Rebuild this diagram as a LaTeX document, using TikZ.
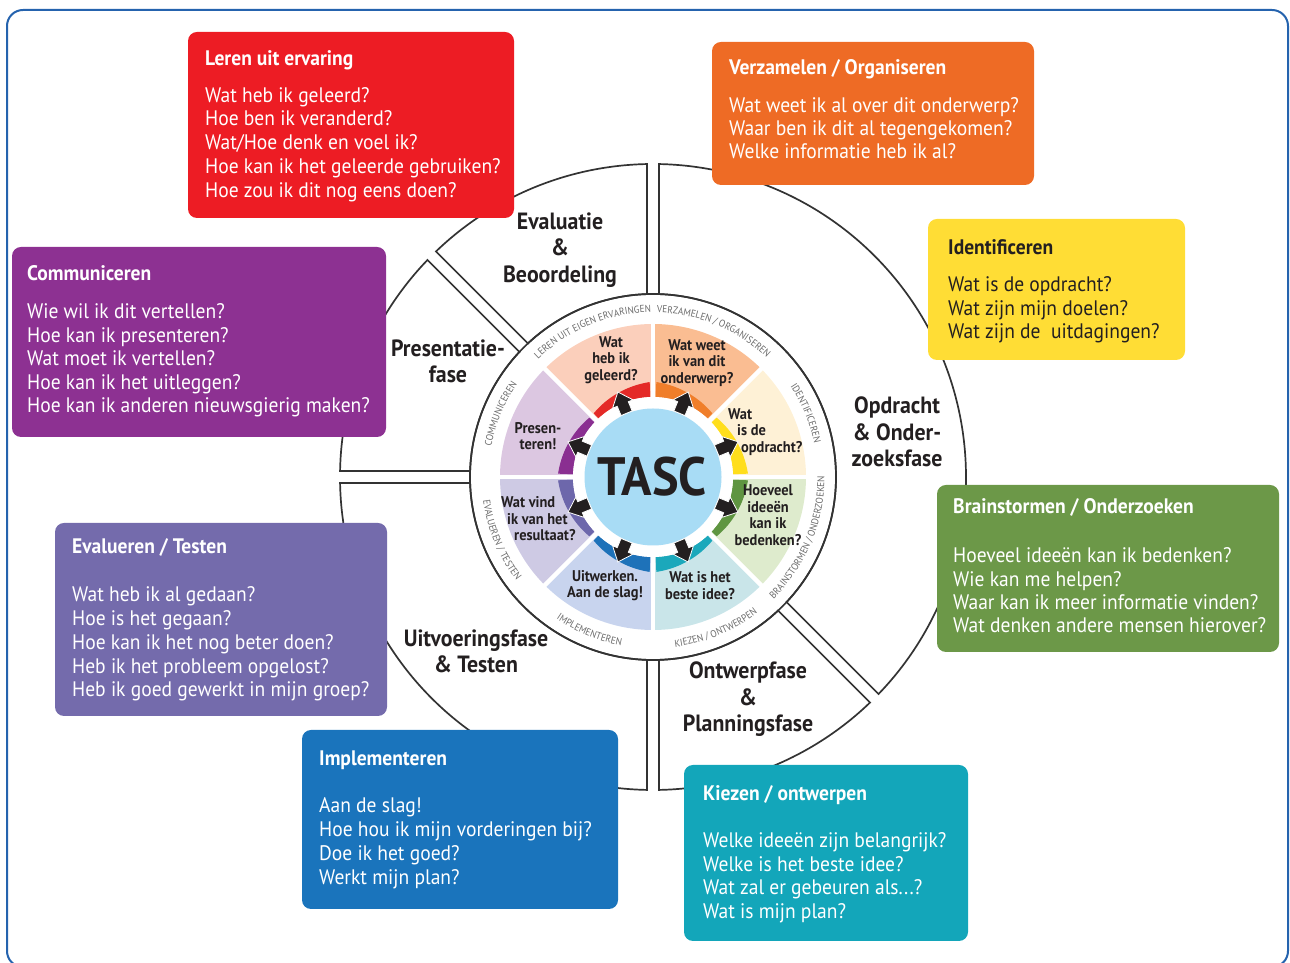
\documentclass[tikz,border=0pt]{standalone}
\usepackage{fontspec}
\setmainfont{PT Sans}[FakeStretch=0.93]
\usetikzlibrary{decorations.text}
\definecolor{frameblue}{HTML}{2563AE}
\definecolor{bRed}{HTML}{ED1C24}
\definecolor{bOrange}{HTML}{EE6B25}
\definecolor{bYellow}{HTML}{FFDD35}
\definecolor{bGreen}{HTML}{6C9848}
\definecolor{bTeal}{HTML}{13A6BA}
\definecolor{bBlue}{HTML}{1A74BC}
\definecolor{bSlate}{HTML}{746BAC}
\definecolor{bPurple}{HTML}{8D3192}
\definecolor{pSalmon}{HTML}{FBCFBB}
\definecolor{pOrange}{HTML}{FABD92}
\definecolor{pYellow}{HTML}{FEF1D6}
\definecolor{pGreen}{HTML}{DEEBCD}
\definecolor{pTeal}{HTML}{C9E5E9}
\definecolor{pBlue}{HTML}{C8D4EE}
\definecolor{pSlate}{HTML}{CECAE4}
\definecolor{pPurple}{HTML}{DCC7E1}
\definecolor{rRed}{HTML}{E42A27}
\definecolor{rOrange}{HTML}{F07E2A}
\definecolor{rYellow}{HTML}{FFDE1C}
\definecolor{rGreen}{HTML}{5F9541}
\definecolor{rTeal}{HTML}{1BA8BB}
\definecolor{rBlue}{HTML}{1E72B9}
\definecolor{rSlate}{HTML}{6D67AB}
\definecolor{rPurple}{HTML}{8A2F91}
\definecolor{tascblue}{HTML}{A8DCF5}
\definecolor{dark}{HTML}{231F20}
\definecolor{ringgray}{HTML}{6A6A6A}
\definecolor{segcol}{HTML}{333333}
\newcommand\ringfont{\fontsize{10}{10}\selectfont}
\newcommand\boxlines[6]{%
  \foreach \myline [count=\i from 0] in {#6}{%
    \node[bodytext, text=#2, anchor=base west] (#1-\i) at ({#3},{#4-\i*#5}) {\myline};
  }%
}
\begin{document}
\begin{tikzpicture}[x=1pt,y=1pt,
  frame/.style={draw=frameblue, line width=2pt, rounded corners=16pt},
  segline/.style={draw=segcol, line width=1.7pt, fill=white},
  infobox/.style={rounded corners=9pt, anchor=south west, inner sep=0pt, outer sep=0pt},
  titletext/.style={font=\bfseries\fontsize{21}{24}\selectfont, inner sep=0pt},
  bodytext/.style={font=\fontsize{21}{24}\selectfont, inner sep=0pt},
  phase/.style={font=\bfseries\fontsize{23.5}{26.5}\selectfont, align=center, text=dark, inner sep=0pt},
  innertext/.style={font=\bfseries\fontsize{15.5}{16.5}\selectfont, text=dark, inner sep=0pt},
  arrowstyle/.style={fill=dark, draw=white, line width=0.8pt, line join=miter},
  ringtop/.style={decorate, decoration={text along path, text align=center, text color=ringgray, text={|\ringfont|#1}}},
]
\useasboundingbox (0,0) rectangle (1290,963);
\draw[frame] (7,-4) rectangle (1288,953);

\begin{scope}[shift={(653,486)}]
  % outer phase segments
  \foreach \a/\b in {-45/90, 90/135, 135/180, 180/270, 270/315}{
    \pgfmathsetmacro\ao{\a+1.1}\pgfmathsetmacro\bo{\b-1.1}
    \pgfmathsetmacro\ai{\a+1.88}\pgfmathsetmacro\bi{\b-1.88}
    \draw[segline] (\ao:313) arc[start angle=\ao, end angle=\bo, radius=313]
      -- (\bi:183) arc[start angle=\bi, end angle=\ai, radius=183] -- cycle;
  }
  \draw[segcol, line width=1.7pt] (0,0) circle[radius=183];
  % pastel sectors and coloured tapered arcs
  \foreach \a/\pc/\rc/\ta/\tb in {90/pSalmon/rRed/95/87, 45/pOrange/rOrange/87/95,
      0/pYellow/rYellow/95/87, -45/pGreen/rGreen/87/95, -90/pTeal/rTeal/95/87,
      -135/pBlue/rBlue/87/95, 180/pSlate/rSlate/95/87, 135/pPurple/rPurple/87/95}{
    \pgfmathsetmacro\e{\a+45}
    \fill[\pc] (0,0) -- (\a:153) arc[start angle=\a, end angle=\e, radius=153] -- cycle;
    \pgfmathsetmacro\s{\a+2}\pgfmathsetmacro\f{\a+43}
    \fill[\rc] plot[domain=\s:\f, samples=30] (\x:{\ta+(\tb-\ta)*(\x-\s)/41})
      -- (\f:80) arc[start angle=\f, end angle=\s, radius=80] -- cycle;
  }
  \fill[white] (0,0) circle[radius=80];
  \foreach \a in {0,45,...,315}{
    \draw[white, line width=4.5pt] (\a:60) -- (\a:156);
  }
  \fill[tascblue] (0,0) circle[radius=68.5];
  \foreach \a in {22.5,67.5,...,337.5}{
    \draw[arrowstyle, rotate=\a] (69,-6) -- (79,-6) -- (79,-11) -- (92,0) -- (79,11) -- (79,6) -- (69,6) -- cycle;
  }
  % ring labels
  \path[ringtop={LEREN UIT EIGEN ERVARINGEN}] (152.5:164.5) arc[start angle=152.5, end angle=72.5, radius=164.5];
  \path[ringtop={VERZAMELEN / ORGANISEREN}] (107.5:164.5) arc[start angle=107.5, end angle=27.5, radius=164.5];
  \path[ringtop={IDENTIFICEREN}] (62.5:164.5) arc[start angle=62.5, end angle=-17.5, radius=164.5];
  \path[ringtop={COMMUNICEREN}] (197.5:164.5) arc[start angle=197.5, end angle=117.5, radius=164.5];
  \path[ringtop={BRAINSTORMEN / ONDERZOEKEN}] (-62.5:171.5) arc[start angle=-62.5, end angle=17.5, radius=171.5];
  \path[ringtop={KIEZEN / ONTWERPEN}] (-107.5:171.5) arc[start angle=-107.5, end angle=-27.5, radius=171.5];
  \path[ringtop={IMPLEMENTEREN}] (-152.5:171.5) arc[start angle=-152.5, end angle=-72.5, radius=171.5];
  \path[ringtop={EVALUEREN / TESTEN}] (-197.5:171.5) arc[start angle=-197.5, end angle=-117.5, radius=171.5];
\end{scope}

\node[font=\bfseries\fontsize{54}{54}\selectfont, text=dark, inner sep=0pt] (tasc) at (652,486) {TASC};

% inner segment texts
\node[innertext, align=center] (geleerd) at (611,603) {Wat\\heb ik\\geleerd?};
\node[innertext, align=center] (weet) at (697,600) {Wat weet\\ik van dit\\onderwerp?};
\node[innertext, align=left, anchor=west] (opdracht) at (728,531) {Wat\\\hspace*{9pt}is de\\\hspace*{13pt}opdracht?};
\node[innertext, align=center] (hoeveel) at (768,448) {Hoeveel\\ideeën\\kan ik\\bedenken?};
\node[innertext, align=center] (beste) at (700,377.5) {Wat is het\\beste idee?};
\node[innertext, align=center] (uitwerken) at (605,377.5) {Uitwerken.\\Aan de slag!};
\node[innertext, align=left, anchor=west] (vind) at (501,444) {Wat vind\\\hspace*{6pt}ik van het\\\hspace*{13pt}resultaat?};
\node[innertext, align=center] (presen) at (538,527) {Presen-\\teren!};

% phase labels
\node[phase] (evaluatie) at (560,713) {Evaluatie\\\&\\Beoordeling};
\node[phase] (presentatie) at (448,601.5) {Presentatie-\\fase};
\node[phase] (opdrachtfase) at (897,531) {Opdracht\\\& Onder-\\zoeksfase};
\node[phase] (uitvoering) at (476,311.5) {Uitvoeringsfase\\\& Testen};
\node[phase] (ontwerp) at (748,263.5) {Ontwerpfase\\\&\\Planningsfase};

% info boxes
\node[infobox, fill=bRed, minimum width=326, minimum height=186] (leren) at (188,745) {};
\node[titletext, text=white, anchor=base west] (leren-title) at (205,897) {Leren uit ervaring};
\boxlines{leren}{white}{205}{860.7}{23.7}{Wat heb ik geleerd?, Hoe ben ik veranderd?, Wat/Hoe denk en voel ik?, Hoe kan ik het geleerde gebruiken?, Hoe zou ik dit nog eens doen?}

\node[infobox, fill=bOrange, minimum width=322, minimum height=143] (verz) at (712,778) {};
\node[titletext, text=white, anchor=base west] (verz-title) at (729,888) {Verzamelen / Organiseren};
\boxlines{verz}{white}{729}{850}{22.7}{Wat weet ik al over dit onderwerp?, Waar ben ik dit al tegengekomen?, Welke informatie heb ik al?}

\node[infobox, fill=bYellow, minimum width=257, minimum height=141] (ident) at (928,603) {};
\node[titletext, text=dark, anchor=base west] (ident-title) at (948,708) {Identificeren};
\boxlines{ident}{dark}{948}{671}{23.5}{Wat is de opdracht?, Wat zijn mijn doelen?, Wat zijn de~~uitdagingen?}

\node[infobox, fill=bGreen, minimum width=342, minimum height=167] (brain) at (937,311) {};
\node[titletext, text=white, anchor=base west] (brain-title) at (953,449) {Brainstormen / Onderzoeken};
\boxlines{brain}{white}{953}{400}{23.3}{Hoeveel ideeën kan ik bedenken?, Wie kan me helpen?, Waar kan ik meer informatie vinden?, Wat denken andere mensen hierover?}

\node[infobox, fill=bTeal, minimum width=284, minimum height=176] (kiezen) at (684,22) {};
\node[titletext, text=white, anchor=base west] (kiezen-title) at (703,162) {Kiezen / ontwerpen};
\boxlines{kiezen}{white}{703}{115}{23.5}{Welke ideeën zijn belangrijk?, Welke is het beste idee?, Wat zal er gebeuren als{.}{.}{.}?, Wat is mijn plan?}

\node[infobox, fill=bBlue, minimum width=316, minimum height=179] (impl) at (302,54) {};
\node[titletext, text=white, anchor=base west] (impl-title) at (319,197) {Implementeren};
\boxlines{impl}{white}{319}{150}{23.7}{Aan de slag!, Hoe hou ik mijn vorderingen bij?, Doe ik het goed?, Werkt mijn plan?}

\node[infobox, fill=bSlate, minimum width=332, minimum height=193] (eval) at (55,247) {};
\node[titletext, text=white, anchor=base west] (eval-title) at (72,409) {Evalueren / Testen};
\boxlines{eval}{white}{72}{361}{23.7}{Wat heb ik al gedaan?, Hoe is het gegaan?, Hoe kan ik het nog beter doen?, Heb ik het probleem opgelost?, Heb ik goed gewerkt in mijn groep?}

\node[infobox, fill=bPurple, minimum width=374, minimum height=190] (comm) at (12,526) {};
\node[titletext, text=white, anchor=base west] (comm-title) at (27,682) {Communiceren};
\boxlines{comm}{white}{27}{644}{23.5}{Wie wil ik dit vertellen?, Hoe kan ik presenteren?, Wat moet ik vertellen?, Hoe kan ik het uitleggen?, Hoe kan ik anderen nieuwsgierig maken?}
\end{tikzpicture}
\end{document}
